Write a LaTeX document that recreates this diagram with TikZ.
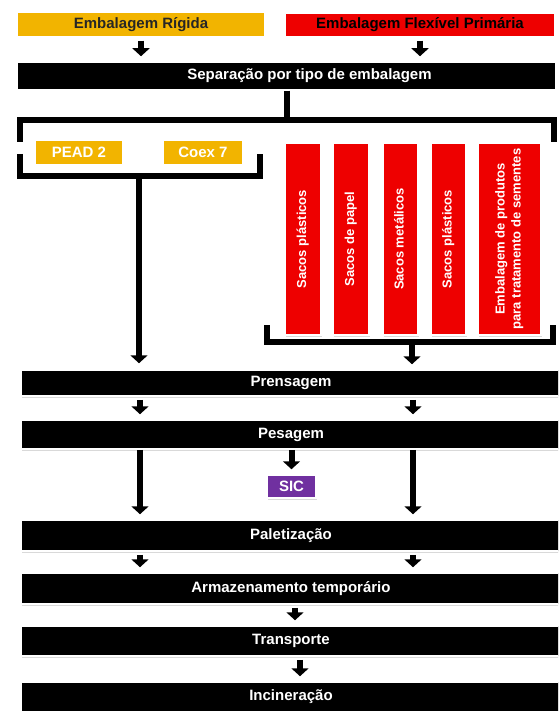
\documentclass[tikz,border=0pt]{standalone}
\usepackage{fontspec}
\setmainfont{Liberation Sans}
\usepackage{graphicx}
\usetikzlibrary{arrows.meta,shadows,calc}
\definecolor{amarelo}{RGB}{242,180,0}
\definecolor{vermelho}{RGB}{238,0,0}
\definecolor{roxo}{RGB}{112,48,160}
\tikzset{etapa/.style={
         draw=white,fill=black,text=white,line width=1.5pt,minimum width=540,minimum height=#1,
         inner sep=0pt,font=\fontsize{15}{18}\selectfont\bfseries,
         drop shadow={opacity=.3,shadow xshift=1pt,shadow yshift=-1.5pt}}}
\tikzset{caixa/.style={
         draw=white,fill=#1,line width=1.5pt,inner sep=0pt,font=\fontsize{15}{18}\selectfont\bfseries,
         drop shadow={opacity=.3,shadow xshift=1pt,shadow yshift=-1.5pt}}}
\tikzset{seta/.style={
         line width=6pt,-{Triangle[width=17pt,length=8pt]},shorten <=3pt,shorten >=5pt}}
\tikzset{chave/.style={
         line width=6pt,line join=miter}}

\begin{document}
\begin{tikzpicture}[x=1pt,y=1pt,
saco/.style={caixa=vermelho,text=white,minimum height=192,font=\fontsize{13}{16}\selectfont\bfseries}]
\clip (0,0) rectangle (558,-711);

% origem
\node[caixa=amarelo,text=black!85,minimum width=248,minimum height=25] (rigida) at (141,-24.5) {Embalagem Rígida};
\node[caixa=vermelho,text=black,minimum width=270,minimum height=24] (flexivel) at (420,-25) {Embalagem Flexível Primária};
\node[etapa=28,minimum width=539] (separacao) at (286.5,-76) {\hspace*{46pt}Separação por tipo de embalagem};
\draw[seta] (rigida.south) -- (rigida.south |- separacao.north);
\draw[seta] (flexivel.south) -- (flexivel.south |- separacao.north);

% chave de cima
\coordinate (topoE) at (19.5,-120);
\coordinate (topoD) at (554,-120);
\coordinate (pontaE) at (19.5,-142);
\coordinate (pontaD) at (554,-142);
\draw[chave] (separacao.south) -- (separacao.south |- topoE);
\draw[chave] (pontaE) -- (topoE) -- (topoD) -- (pontaD);

% embalagem rigida
\node[caixa=amarelo,text=white,minimum width=88,minimum height=25] (pead) at (79,-152.5) {PEAD 2};
\node[caixa=amarelo,text=white,minimum width=80,minimum height=25] (coex) at (203,-152.5) {Coex 7};
\coordinate (rigE1) at (19.5,-154);
\coordinate (rigE2) at (19.5,-176.5);
\coordinate (rigD2) at (259.5,-176.5);
\coordinate (rigD1) at (259.5,-154);
\coordinate (rigSai) at (139,-176.5);
\draw[chave] (rigE1) -- (rigE2) -- (rigD2) -- (rigD1);

% embalagem flexivel
\foreach \x/\w/\t [count=\i] in {303/36/{Sacos plásticos},351/36/{Sacos de papel},400.5/35/{Sacos metálicos},
  448.5/35/{Sacos plásticos},509.5/63/{Embalagem de produtos\\para tratamento de sementes}}
  {\node[saco,minimum width=\w] (saco\i) at (\x,-239) {\rotatebox{90}{\begin{tabular}{@{}c@{}}\t\end{tabular}}};}
\coordinate (flxE1) at (267,-325);
\coordinate (flxE2) at (267,-342);
\coordinate (flxD2) at (553,-342);
\coordinate (flxD1) at (553,-325);
\coordinate (flxSai) at (412,-342);
\draw[chave] (flxE1) -- (flxE2) -- (flxD2) -- (flxD1);

% etapas
\node[etapa=26] (prensagem) at (291,-383) {Prensagem};
\node[etapa=29] (pesagem) at (291,-434.5) {Pesagem};
\node[caixa=roxo,text=white,minimum width=49,minimum height=23] (sic) at (291.5,-486.5) {SIC};
\node[etapa=31] (paletizacao) at (291,-535.5) {Paletização};
\node[etapa=31] (armazenamento) at (291,-588.5) {Armazenamento temporário};
\node[etapa=30] (transporte) at (291,-641) {Transporte};
\node[etapa=30] (incineracao) at (291,-697) {Incineração};

\coordinate (colA) at (140,0);
\coordinate (colB) at (413,0);
\draw[seta,shorten <=0pt,shorten >=6pt] (rigSai) -- (rigSai |- prensagem.north);
\draw[seta,shorten <=0pt] (flxSai) -- (flxSai |- prensagem.north);
\foreach \c in {colA,colB} {
  \draw[seta] (\c |- prensagem.south) -- (\c |- pesagem.north);
  \draw[seta,shorten <=0pt] (\c |- pesagem.south) -- (\c |- paletizacao.north);
  \draw[seta] (\c |- paletizacao.south) -- (\c |- armazenamento.north);}
\draw[seta,shorten <=0pt] (sic.north |- pesagem.south) -- (sic.north);
\draw[seta] (armazenamento.south -| 295,0) -- (transporte.north -| 295,0);
\draw[seta] (transporte.south -| 300,0) -- (incineracao.north -| 300,0);

\end{tikzpicture}
\end{document}
